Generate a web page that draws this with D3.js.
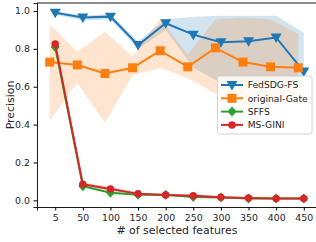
<!DOCTYPE html>
<html>
<head>
<meta charset="utf-8">
<script src="https://cdn.jsdelivr.net/npm/d3@7"></script>
<style>
  body { margin: 0; background: #fff; }
  text { font-family: "DejaVu Sans", sans-serif; fill: #262626; }
</style>
</head>
<body>
<div id="chart"></div>
<script>
// DATA
const categories = ["5", "50", "100", "150", "200", "250", "300", "350", "400", "450"]
const yTicks = [0.0, 0.2, 0.4, 0.6, 0.8, 1.0]

const fedMean = [0.99, 0.965, 0.97, 0.82, 0.935, 0.875, 0.835, 0.84, 0.86, 0.68]
const fedLow  = [0.98, 0.95, 0.955, 0.80, 0.90, 0.70, 0.62, 0.62, 0.62, 0.60]
const fedHigh = [1.0, 0.975, 0.985, 0.84, 0.955, 0.97, 0.975, 0.975, 0.975, 0.885]

const gateMean = [0.73, 0.715, 0.67, 0.70, 0.79, 0.705, 0.805, 0.73, 0.705, 0.70]
const gateLow  = [0.42, 0.62, 0.41, 0.66, 0.70, 0.645, 0.565, 0.52, 0.52, 0.52]
const gateHigh = [0.93, 0.785, 0.89, 0.76, 0.96, 0.77, 0.955, 0.965, 0.955, 0.88]

const sffsMean = [0.81, 0.075, 0.04, 0.03, 0.03, 0.018, 0.015, 0.01, 0.01, 0.01]
const sffsLow  = [0.80, 0.07, 0.035, 0.027, 0.026, 0.014, 0.012, 0.008, 0.008, 0.008]
const sffsHigh = [0.82, 0.08, 0.045, 0.033, 0.034, 0.022, 0.018, 0.012, 0.012, 0.012]

const giniMean = [0.825, 0.085, 0.06, 0.035, 0.028, 0.025, 0.016, 0.012, 0.01, 0.01]
const giniLow  = [0.815, 0.075, 0.05, 0.03, 0.024, 0.018, 0.013, 0.01, 0.008, 0.008]
const giniHigh = [0.835, 0.095, 0.07, 0.04, 0.032, 0.035, 0.02, 0.015, 0.012, 0.012]

const width = 316, height = 242

const series = [
  {name: "FedSDG-FS", color: "#1f77b4", shape: "tri", shift: 0, mean: fedMean, low: fedLow, high: fedHigh},
  {name: "original-Gate", color: "#ff7f0e", shape: "square", shift: -0.2, mean: gateMean, low: gateLow, high: gateHigh},
  {name: "SFFS", color: "#2ca02c", shape: "diamond", shift: 0, mean: sffsMean, low: sffsLow, high: sffsHigh},
  {name: "MS-GINI", color: "#d62728", shape: "circle", shift: 0, mean: giniMean, low: giniLow, high: giniHigh}
]

// SCALES
const xScale = d3.scaleLinear()
  .domain([-0.66, 9.66])
  .range([37, 322])

const yScale = d3.scaleLinear()
  .domain([-0.035, 1.042])
  .range([207, 3])

const svg = d3.select("#chart")
  .append("svg")
  .attr("width", width)
  .attr("height", height)

// BANDS
series.forEach(s => {
  const area = d3.area()
    .x((d, i) => xScale(i + s.shift))
    .y0((d, i) => yScale(s.low[i]))
    .y1((d, i) => yScale(s.high[i]))
  svg.append("path")
    .datum(s.mean)
    .attr("d", area)
    .attr("fill", s.color)
    .attr("fill-opacity", 0.2)
})

// marker shapes
function markerPath(shape) {
  if (shape == "tri") return "M-5.5,-4 L5.5,-4 L0,5.5 Z"
  if (shape == "square") return "M-4.5,-4.5 H4.5 V4.5 H-4.5 Z"
  if (shape == "diamond") return "M0,-5 L4.5,0 L0,5 L-4.5,0 Z"
  return d3.symbol(d3.symbolCircle, 44)()
}

// LINES + MARKERS
series.forEach(s => {
  const line = d3.line()
    .x((d, i) => xScale(i + s.shift))
    .y(d => yScale(d))
  svg.append("path")
    .datum(s.mean)
    .attr("d", line)
    .attr("fill", "none")
    .attr("stroke", s.color)
    .attr("stroke-width", 2)

  svg.append("g")
    .selectAll("path")
    .data(s.mean)
    .join("path")
      .attr("d", markerPath(s.shape))
      .attr("transform", (d, i) => `translate(${xScale(i + s.shift)},${yScale(d)})`)
      .attr("fill", s.color)
})

// AXES
const xAxis = d3.axisBottom(xScale)
  .tickValues(d3.range(categories.length))
  .tickFormat(i => categories[i])
  .tickSize(3.5)
  .tickPadding(3.5)

const yAxis = d3.axisLeft(yScale)
  .tickValues(yTicks)
  .tickFormat(d3.format(".1f"))
  .tickSize(3.5)
  .tickPadding(3.5)

svg.append("g")
  .attr("transform", "translate(0,207)")
  .call(xAxis)
  .attr("font-size", 9.4)
  .call(g => g.select(".domain").attr("stroke-width", 0.9))

svg.append("g")
  .attr("transform", "translate(37,0)")
  .call(yAxis)
  .attr("font-size", 9.4)
  .call(g => g.select(".domain").attr("stroke-width", 0.9))

svg.selectAll(".tick text").attr("fill", "#262626")

// top spine
svg.append("line")
  .attr("x1", 37).attr("x2", 322)
  .attr("y1", 3).attr("y2", 3)
  .attr("stroke", "black")
  .attr("stroke-width", 0.9)

// axis labels
svg.append("text")
  .attr("x", 177)
  .attr("y", 234)
  .attr("text-anchor", "middle")
  .attr("font-size", 10.9)
  .text("# of selected features")

svg.append("text")
  .attr("transform", "translate(13.5,105) rotate(-90)")
  .attr("text-anchor", "middle")
  .attr("font-size", 10.9)
  .text("Precision")

// LEGEND
const legend = svg.append("g")

legend.append("rect")
  .attr("x", 217.5).attr("y", 76)
  .attr("width", 94.5).attr("height", 58)
  .attr("rx", 2)
  .attr("fill", "white")
  .attr("fill-opacity", 0.8)
  .attr("stroke", "#cccccc")
  .attr("stroke-width", 0.8)

series.forEach((s, i) => {
  const ly = 85 + i * 13.3
  legend.append("line")
    .attr("x1", 221).attr("x2", 243)
    .attr("y1", ly).attr("y2", ly)
    .attr("stroke", s.color)
    .attr("stroke-width", 2)
  legend.append("path")
    .attr("d", markerPath(s.shape))
    .attr("transform", `translate(232,${ly})`)
    .attr("fill", s.color)
  legend.append("text")
    .attr("x", 247.7)
    .attr("y", ly + 3.4)
    .attr("font-size", 9.2)
    .text(s.name)
})
</script>
</body>
</html>
